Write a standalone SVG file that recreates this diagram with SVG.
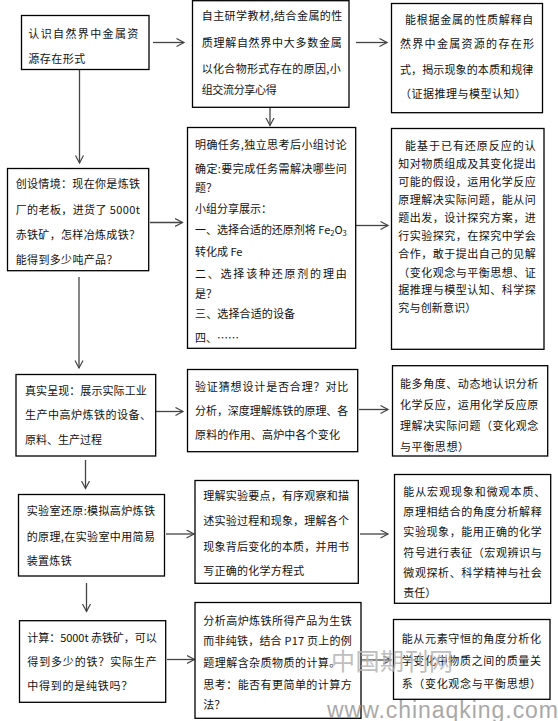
<svg xmlns="http://www.w3.org/2000/svg" width="558" height="721" viewBox="0 0 558 721">
<style>
  .box { fill: #fff; stroke: #000; stroke-width: 1.3; }
  .t { font-family: "Noto Sans CJK SC", "Liberation Sans", sans-serif; font-size: 11px; fill: #111; }
  .c { fill: none; stroke: #444; stroke-width: 1.3; }
  .wm { font-family: "Noto Sans CJK SC", sans-serif; font-size: 24px; fill: #b4b4b4; }
  .url { font-family: "Liberation Sans", sans-serif; font-size: 23px; fill: #9a9a9a; }
</style>
<defs>
  <marker id="ah" markerUnits="userSpaceOnUse" markerWidth="10" markerHeight="10" refX="8" refY="4.5" orient="auto">
    <path d="M0.5,0.5 L8,4.5 L0.5,8.5" fill="none" stroke="#444" stroke-width="1.2"/>
  </marker>
</defs>
<rect width="558" height="721" fill="#fff"/>

<g id="connectors">
  <line class="c" x1="153" y1="42.5" x2="184" y2="42.5" marker-end="url(#ah)"/>
  <line class="c" x1="356" y1="42.5" x2="387" y2="42.5" marker-end="url(#ah)"/>
  <line class="c" x1="79.5" y1="69.5" x2="79.5" y2="163" marker-end="url(#ah)"/>
  <line class="c" x1="270" y1="107.5" x2="270" y2="125.5" marker-end="url(#ah)"/>
  <line class="c" x1="150" y1="222.5" x2="182.5" y2="222.5" marker-end="url(#ah)"/>
  <line class="c" x1="356" y1="225.5" x2="388" y2="225.5" marker-end="url(#ah)"/>
  <line class="c" x1="79" y1="277" x2="79" y2="368" marker-end="url(#ah)"/>
  <line class="c" x1="156" y1="411.5" x2="183" y2="411.5" marker-end="url(#ah)"/>
  <line class="c" x1="359" y1="409.5" x2="388" y2="409.5" marker-end="url(#ah)"/>
  <line class="c" x1="85.5" y1="460" x2="85.5" y2="488.5" marker-end="url(#ah)"/>
  <line class="c" x1="166" y1="534" x2="194" y2="534" marker-end="url(#ah)"/>
  <line class="c" x1="360" y1="534" x2="388" y2="534" marker-end="url(#ah)"/>
  <line class="c" x1="86.5" y1="583" x2="86.5" y2="611.5" marker-end="url(#ah)"/>
  <line class="c" x1="167" y1="659.5" x2="194.5" y2="659.5" marker-end="url(#ah)"/>
  <line class="c" x1="362" y1="660" x2="391" y2="660" marker-end="url(#ah)"/>
</g>

<g id="nodeA">
  <rect class="box" x="21.5" y="15.5" width="127.5" height="54"/>
  <text class="t" x="28.3" y="37.5" textLength="110" lengthAdjust="spacing">认识自然界中金属资</text>
  <text class="t" x="28.3" y="62.5" textLength="57" lengthAdjust="spacing">源存在形式</text>
</g>

<g id="nodeB">
  <rect class="box" x="192.5" y="0.7" width="156.5" height="106.6"/>
  <text class="t" x="201.7" y="20" textLength="140.6" lengthAdjust="spacing">自主研学教材,结合金属的性</text>
  <text class="t" x="201.7" y="46.5" textLength="140" lengthAdjust="spacing">质理解自然界中大多数金属</text>
  <text class="t" x="201.7" y="72.5" textLength="139" lengthAdjust="spacing">以化合物形式存在的原因,小</text>
  <text class="t" x="201.7" y="94" textLength="75" lengthAdjust="spacing">组交流分享心得</text>
</g>

<g id="nodeC3a">
  <rect class="box" x="391.5" y="3.5" width="151" height="109.2"/>
  <text class="t" x="405" y="24" textLength="128.3" lengthAdjust="spacing">能根据金属的性质解释自</text>
  <text class="t" x="400" y="48" textLength="134" lengthAdjust="spacing">然界中金属资源的存在形</text>
  <text class="t" x="400" y="73.5" textLength="133.3" lengthAdjust="spacing">式，揭示现象的本质和规律</text>
  <text class="t" x="400" y="97.5" textLength="126" lengthAdjust="spacing">（证据推理与模型认知）</text>
</g>

<g id="nodeC">
  <rect class="box" x="7.5" y="168.5" width="141.2" height="102.2"/>
  <text class="t" x="15.7" y="188" textLength="124.3" lengthAdjust="spacing">创设情境：现在你是炼铁</text>
  <text class="t" x="15.7" y="213.5" textLength="124.3" lengthAdjust="spacing">厂的老板，进货了 5000t</text>
  <text class="t" x="15.7" y="239" textLength="124.3" lengthAdjust="spacing">赤铁矿，怎样冶炼成铁？</text>
  <text class="t" x="15.7" y="263.5" textLength="101.7" lengthAdjust="spacing">能得到多少吨产品？</text>
</g>

<g id="nodeD">
  <rect class="box" x="187.5" y="127.5" width="168.2" height="220.8"/>
  <text class="t" x="195" y="148.5" textLength="151.7" lengthAdjust="spacing">明确任务,独立思考后小组讨论</text>
  <text class="t" x="195" y="172.5" textLength="151.7" lengthAdjust="spacing">确定:要完成任务需解决哪些问</text>
  <text class="t" x="195" y="191.5">题？</text>
  <text class="t" x="195" y="213">小组分享展示：</text>
  <text class="t" x="195" y="234" textLength="151.7" lengthAdjust="spacing">一、选择合适的还原剂将 Fe<tspan font-size="7.5" dy="2">2</tspan><tspan dy="-2">O</tspan><tspan font-size="7.5" dy="2">3</tspan></text>
  <text class="t" x="195" y="256">转化成 Fe</text>
  <text class="t" x="195" y="277.5" textLength="151.7" lengthAdjust="spacing">二、选择该种还原剂的理由</text>
  <text class="t" x="195" y="297.5">是？</text>
  <text class="t" x="195" y="318" textLength="100" lengthAdjust="spacing">三、选择合适的设备</text>
  <text class="t" x="195" y="342">四、……</text>
</g>

<g id="nodeC3b">
  <rect class="box" x="391.5" y="128.5" width="152.5" height="220.8"/>
  <text class="t" x="405" y="150" textLength="130.7" lengthAdjust="spacing">能基于已有还原反应的认</text>
  <text class="t" x="398.3" y="168" textLength="137.4" lengthAdjust="spacing">知对物质组成及其变化提出</text>
  <text class="t" x="398.3" y="186" textLength="137.4" lengthAdjust="spacing">可能的假设，运用化学反应</text>
  <text class="t" x="398.3" y="204" textLength="137.4" lengthAdjust="spacing">原理解决实际问题，能从问</text>
  <text class="t" x="398.3" y="222" textLength="137.4" lengthAdjust="spacing">题出发，设计探究方案，进</text>
  <text class="t" x="398.3" y="240" textLength="137.4" lengthAdjust="spacing">行实验探究，在探究中学会</text>
  <text class="t" x="398.3" y="258" textLength="137.4" lengthAdjust="spacing">合作，敢于提出自己的见解</text>
  <text class="t" x="398.3" y="276.5" textLength="137.4" lengthAdjust="spacing">（变化观念与平衡思想、证</text>
  <text class="t" x="398.3" y="294" textLength="137.4" lengthAdjust="spacing">据推理与模型认知、科学探</text>
  <text class="t" x="398.3" y="312" textLength="78" lengthAdjust="spacing">究与创新意识）</text>
</g>

<g id="nodeE">
  <rect class="box" x="16" y="374.5" width="139.7" height="81.5"/>
  <text class="t" x="25" y="395" textLength="121.7" lengthAdjust="spacing">真实呈现：展示实际工业</text>
  <text class="t" x="25" y="419" textLength="126" lengthAdjust="spacing">生产中高炉炼铁的设备、</text>
  <text class="t" x="25" y="444" textLength="77" lengthAdjust="spacing">原料、生产过程</text>
</g>

<g id="nodeF">
  <rect class="box" x="187.5" y="369.5" width="170.2" height="82.2"/>
  <text class="t" x="195" y="391" textLength="153.3" lengthAdjust="spacing">验证猜想设计是否合理？对比</text>
  <text class="t" x="195" y="415" textLength="153.3" lengthAdjust="spacing">分析，深度理解炼铁的原理、各</text>
  <text class="t" x="195" y="439" textLength="145" lengthAdjust="spacing">原料的作用、高炉中各个变化</text>
</g>

<g id="nodeC3c">
  <rect class="box" x="392.5" y="365.7" width="155.2" height="90.3"/>
  <text class="t" x="400" y="387.5" textLength="138.3" lengthAdjust="spacing">能多角度、动态地认识分析</text>
  <text class="t" x="400" y="408.5" textLength="138.3" lengthAdjust="spacing">化学反应，运用化学反应原</text>
  <text class="t" x="400" y="430" textLength="138.3" lengthAdjust="spacing">理解决实际问题（变化观念</text>
  <text class="t" x="400" y="451" textLength="69" lengthAdjust="spacing">与平衡思想）</text>
</g>

<g id="nodeG">
  <rect class="box" x="18.5" y="494.5" width="146" height="81.5"/>
  <text class="t" x="26.7" y="515" textLength="128.3" lengthAdjust="spacing">实验室还原:模拟高炉炼铁</text>
  <text class="t" x="26.7" y="541" textLength="128.3" lengthAdjust="spacing">的原理,在实验室中用简易</text>
  <text class="t" x="26.7" y="565" textLength="45" lengthAdjust="spacing">装置炼铁</text>
</g>

<g id="nodeH">
  <rect class="box" x="195" y="480.5" width="163.3" height="102.8"/>
  <text class="t" x="203.3" y="500" textLength="145.7" lengthAdjust="spacing">理解实验要点，有序观察和描</text>
  <text class="t" x="203.3" y="525" textLength="145.7" lengthAdjust="spacing">述实验过程和现象，理解各个</text>
  <text class="t" x="203.3" y="551" textLength="145.7" lengthAdjust="spacing">现象背后变化的本质，并用书</text>
  <text class="t" x="203.3" y="575" textLength="101" lengthAdjust="spacing">写正确的化学方程式</text>
</g>

<g id="nodeC3d">
  <rect class="box" x="394.5" y="474.5" width="156.2" height="128.8"/>
  <text class="t" x="403.3" y="496" textLength="142" lengthAdjust="spacing">能从宏观现象和微观本质、</text>
  <text class="t" x="403.3" y="516" textLength="138.4" lengthAdjust="spacing">原理相结合的角度分析解释</text>
  <text class="t" x="403.3" y="536" textLength="138.4" lengthAdjust="spacing">实验现象，能用正确的化学</text>
  <text class="t" x="403.3" y="556.5" textLength="138.4" lengthAdjust="spacing">符号进行表征（宏观辨识与</text>
  <text class="t" x="403.3" y="577" textLength="138.4" lengthAdjust="spacing">微观探析、科学精神与社会</text>
  <text class="t" x="403.3" y="597">责任）</text>
</g>

<g id="nodeI">
  <rect class="box" x="19.5" y="620.7" width="146.2" height="81.6"/>
  <text class="t" x="27.3" y="642" textLength="129.4" lengthAdjust="spacing">计算：5000t 赤铁矿，可以</text>
  <text class="t" x="27.3" y="666" textLength="129.4" lengthAdjust="spacing">得到多少的铁？实际生产</text>
  <text class="t" x="27.3" y="690" textLength="105" lengthAdjust="spacing">中得到的是纯铁吗？</text>
</g>

<g id="nodeJ">
  <rect class="box" x="195" y="602.5" width="166" height="115.8"/>
  <text class="t" x="203.3" y="625" textLength="148.4" lengthAdjust="spacing">分析高炉炼铁所得产品为生铁</text>
  <text class="t" x="203.3" y="645" textLength="148.4" lengthAdjust="spacing">而非纯铁，结合 P17 页上的例</text>
  <text class="t" x="203.3" y="666.5" textLength="137" lengthAdjust="spacing">题理解含杂质物质的计算。</text>
  <text class="t" x="203.3" y="688.5" textLength="148.4" lengthAdjust="spacing">思考：能否有更简单的计算方</text>
  <text class="t" x="203.3" y="709">法？</text>
</g>

<g id="nodeC3e">
  <rect class="box" x="393.5" y="619.5" width="156.5" height="79.8"/>
  <text class="t" x="401.7" y="642.5" textLength="139.3" lengthAdjust="spacing">能从元素守恒的角度分析化</text>
  <text class="t" x="401.7" y="665" textLength="139.3" lengthAdjust="spacing">学变化中物质之间的质量关</text>
  <text class="t" x="401.7" y="687.5" textLength="139.3" lengthAdjust="spacing">系（变化观念与平衡思想）</text>
</g>

<g id="watermark" opacity="0.85">
  <text class="wm" x="331" y="670" textLength="122" lengthAdjust="spacing">中国期刊网</text>
  <text class="url" x="327" y="718" textLength="231" lengthAdjust="spacing">www.chinaqking.com</text>
</g>
</svg>
